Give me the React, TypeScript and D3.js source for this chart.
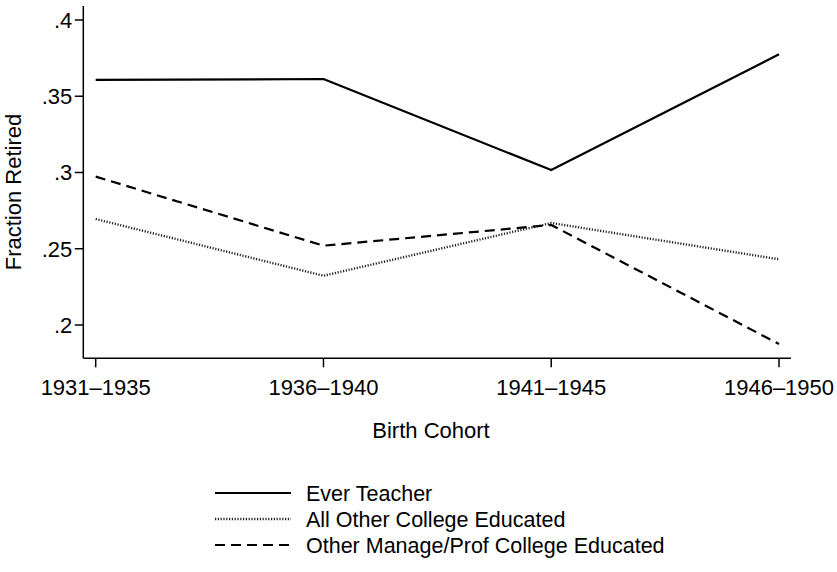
import React from "react";
import * as d3 from "d3";

const cohorts = ["1931–1935", "1936–1940", "1941–1945", "1946–1950"];
const everTeacher = [0.3607, 0.3613, 0.3016, 0.3775];
const allOtherCollege = [0.2695, 0.2323, 0.2669, 0.2431];
const otherManageProf = [0.2973, 0.252, 0.2656, 0.1875];
const yTicks = [0.2, 0.25, 0.3, 0.35, 0.4];
const yTickLabels = [".2", ".25", ".3", ".35", ".4"];

const seriesNames = ["Ever Teacher", "All Other College Educated", "Other Manage/Prof College Educated"];

const W = 837;
const H = 572;
const FONT = "'Liberation Sans', Arial, Helvetica, sans-serif";

export default function App() {
  const x = d3.scalePoint<string>().domain(cohorts).range([95.7, 779]);
  const y = d3.scaleLinear().domain([0.2, 0.4]).range([325, 20]);
  const axisLeft = 83.3;
  const axisBottom = 358.3;
  const axisTop = 6;
  const axisRight = 791;

  const line = d3
    .line<number>()
    .x((_, i) => x(cohorts[i]) as number)
    .y((d) => y(d));

  const styles = [
    { stroke: "#000", width: 2.2, dash: undefined as string | undefined },
    { stroke: "#222", width: 2.4, dash: "1.2 1.6" },
    { stroke: "#000", width: 2.2, dash: "10 6" },
  ];
  const data = [everTeacher, allOtherCollege, otherManageProf];

  const legendY = [493, 519, 545];

  return (
    <svg
      width={W}
      height={H}
      style={{ position: "absolute", left: 0, top: 0, background: "#fff" }}
      fontFamily={FONT}
    >
      <rect x={0} y={0} width={W} height={H} fill="#fff" />
      {/* axes */}
      <line x1={axisLeft} y1={axisTop} x2={axisLeft} y2={axisBottom} stroke="#000" strokeWidth={1.5} />
      <line x1={axisLeft} y1={axisBottom} x2={axisRight} y2={axisBottom} stroke="#000" strokeWidth={1.5} />
      {yTicks.map((t, i) => (
        <g key={"yt" + i}>
          <line x1={axisLeft - 8.5} x2={axisLeft} y1={y(t)} y2={y(t)} stroke="#000" strokeWidth={1.5} />
          <text x={axisLeft - 11} y={y(t)} dy="0.36em" textAnchor="end" fontSize={22} fill="#000">
            {yTickLabels[i]}
          </text>
        </g>
      ))}
      {cohorts.map((c) => (
        <g key={"xt" + c}>
          <line x1={x(c)} x2={x(c)} y1={axisBottom} y2={axisBottom + 9} stroke="#000" strokeWidth={1.5} />
          <text x={x(c)} y={394.5} textAnchor="middle" fontSize={22} fill="#000">
            {c}
          </text>
        </g>
      ))}
      <text x={431} y={438} textAnchor="middle" fontSize={22} fill="#000">
        Birth Cohort
      </text>
      <text transform="translate(21,192) rotate(-90)" textAnchor="middle" fontSize={22} fill="#000">
        Fraction Retired
      </text>
      {/* series */}
      {data.map((d, i) => (
        <path
          key={"s" + i}
          d={line(d) || ""}
          fill="none"
          stroke={styles[i].stroke}
          strokeWidth={styles[i].width}
          strokeDasharray={styles[i].dash}
          strokeLinejoin="round"
        />
      ))}
      {/* legend */}
      {seriesNames.map((n, i) => (
        <g key={"lg" + i}>
          <line
            x1={215}
            x2={291}
            y1={legendY[i]}
            y2={legendY[i]}
            stroke={styles[i].stroke}
            strokeWidth={styles[i].width}
            strokeDasharray={styles[i].dash}
          />
          <text x={306} y={legendY[i]} dy="0.36em" fontSize={21.5} fill="#000">
            {n}
          </text>
        </g>
      ))}
    </svg>
  );
}
